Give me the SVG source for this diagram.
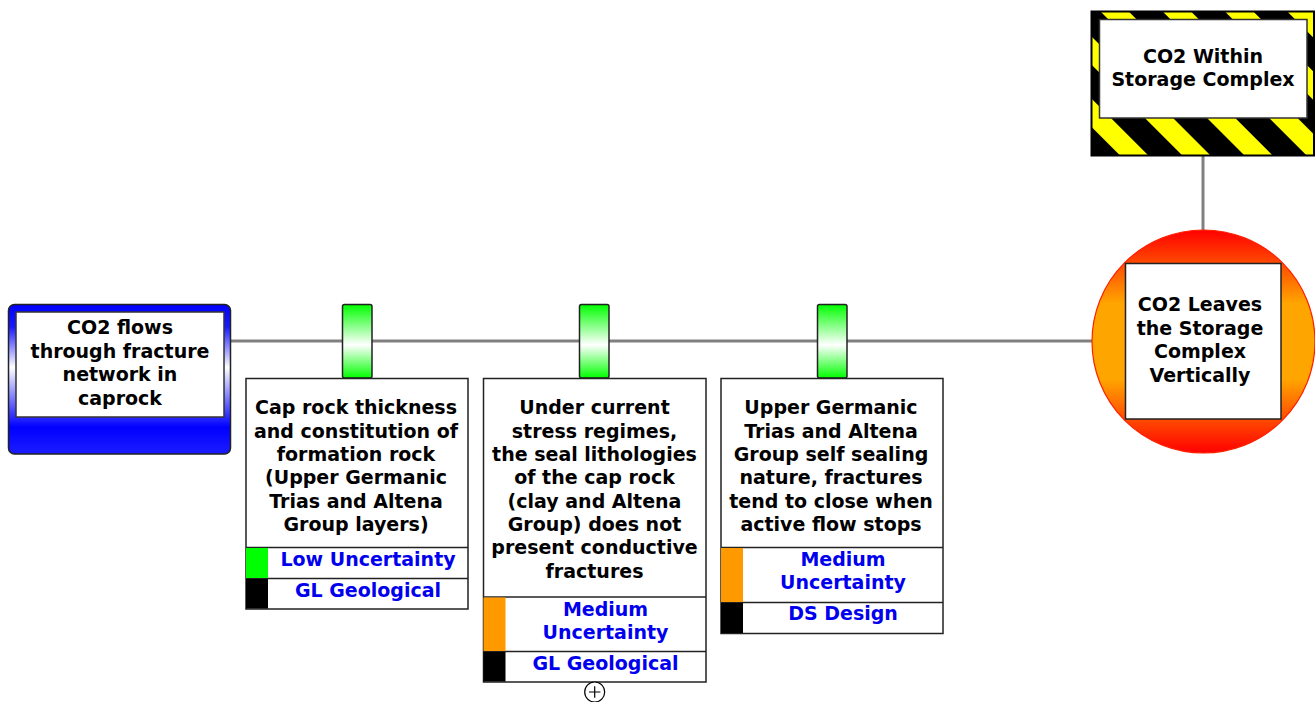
<svg xmlns="http://www.w3.org/2000/svg" width="1315" height="702" viewBox="0 0 1315 702">
<style>
.t{font-family:"DejaVu Sans","Verdana",sans-serif;font-weight:bold;font-size:19px;fill:#000;text-anchor:middle}
.b{fill:#0000ee}
.box{fill:#fff;stroke:#222;stroke-width:1.5}
.con{stroke:#808080;stroke-width:3;fill:none}
.bar{fill:url(#gGreen);stroke:#222;stroke-width:1.5}
</style>
<defs>
<linearGradient id="gBlue" x1="0" y1="0" x2="0" y2="1">
<stop offset="0" stop-color="#0000ff"/>
<stop offset="0.15" stop-color="#1a1aff"/>
<stop offset="0.42" stop-color="#ffffff"/>
<stop offset="0.82" stop-color="#0000ff"/>
<stop offset="1" stop-color="#1c1cff"/>
</linearGradient>
<linearGradient id="gGreen" x1="0" y1="0" x2="0" y2="1">
<stop offset="0" stop-color="#00ff00"/>
<stop offset="0.55" stop-color="#ffffff"/>
<stop offset="1" stop-color="#00ff00"/>
</linearGradient>
<linearGradient id="gFire" x1="0" y1="0" x2="0" y2="1">
<stop offset="0" stop-color="#ff0000"/>
<stop offset="0.33" stop-color="#ffa500"/>
<stop offset="0.67" stop-color="#ffa500"/>
<stop offset="1" stop-color="#ff0000"/>
</linearGradient>
<pattern id="hz" width="44" height="44" patternUnits="userSpaceOnUse" patternTransform="translate(1100 11) rotate(-45)">
<rect width="44" height="44" fill="#000"/>
<rect width="20" height="44" fill="#ffff00"/>
</pattern>
</defs>

<g id="connectors">
<line class="con" x1="231" y1="341" x2="1092" y2="341"/>
<line class="con" x1="1203" y1="155" x2="1203" y2="230"/>
</g>

<g id="threat">
<rect x="8.5" y="304.5" width="222" height="149.5" rx="6" fill="url(#gBlue)" stroke="#222" stroke-width="1.5"/>
<rect x="16" y="312" width="208" height="105" fill="#fff" stroke="#333" stroke-width="1.5"/>
<text class="t" x="120" y="334">CO2 flows</text>
<text class="t" x="120" y="358">through fracture</text>
<text class="t" x="120" y="381">network in</text>
<text class="t" x="120" y="405">caprock</text>
</g>

<g id="barrier1">
<rect class="bar" x="342.5" y="304.5" width="29.5" height="73.5" rx="2"/>
<rect class="box" x="246" y="378.5" width="222" height="230.5"/>
<line x1="246" y1="547.5" x2="468" y2="547.5" stroke="#222" stroke-width="1.5"/>
<line x1="246" y1="578.5" x2="468" y2="578.5" stroke="#222" stroke-width="1.5"/>
<rect x="246" y="548" width="22" height="30" fill="#00ff00"/>
<rect x="246" y="579" width="22" height="29.5" fill="#000"/>
<text class="t" x="356" y="414">Cap rock thickness</text>
<text class="t" x="356" y="437.5">and constitution of</text>
<text class="t" x="356" y="461">formation rock</text>
<text class="t" x="356" y="484">(Upper Germanic</text>
<text class="t" x="356" y="507.5">Trias and Altena</text>
<text class="t" x="356" y="531">Group layers)</text>
<text class="t b" x="368" y="566">Low Uncertainty</text>
<text class="t b" x="368" y="597">GL Geological</text>
</g>

<g id="barrier2">
<rect class="bar" x="579.5" y="304.5" width="29.5" height="73.5" rx="2"/>
<rect class="box" x="483.5" y="378.5" width="222.5" height="303.5"/>
<line x1="483.5" y1="597" x2="706" y2="597" stroke="#222" stroke-width="1.5"/>
<line x1="483.5" y1="651.5" x2="706" y2="651.5" stroke="#222" stroke-width="1.5"/>
<rect x="483.5" y="597.5" width="22" height="53.5" fill="#ff9900"/>
<rect x="483.5" y="652" width="22" height="29.5" fill="#000"/>
<text class="t" x="594.5" y="414">Under current</text>
<text class="t" x="594.5" y="437.5">stress regimes,</text>
<text class="t" x="594.5" y="461">the seal lithologies</text>
<text class="t" x="594.5" y="484">of the cap rock</text>
<text class="t" x="594.5" y="507.5">(clay and Altena</text>
<text class="t" x="594.5" y="531">Group) does not</text>
<text class="t" x="594.5" y="554">present conductive</text>
<text class="t" x="594.5" y="577.5">fractures</text>
<text class="t b" x="605.5" y="615.5">Medium</text>
<text class="t b" x="605.5" y="639">Uncertainty</text>
<text class="t b" x="605.5" y="670">GL Geological</text>
<circle cx="594.7" cy="692" r="10" fill="#fff" stroke="#000" stroke-width="1.2"/>
<path d="M589 692H600.4M594.7 686.3V697.7" stroke="#000" stroke-width="1.2"/>
</g>

<g id="barrier3">
<rect class="bar" x="817.5" y="304.5" width="29.5" height="73.5" rx="2"/>
<rect class="box" x="721" y="378.5" width="222" height="255"/>
<line x1="721" y1="547.5" x2="943" y2="547.5" stroke="#222" stroke-width="1.5"/>
<line x1="721" y1="602.5" x2="943" y2="602.5" stroke="#222" stroke-width="1.5"/>
<rect x="721" y="548" width="22" height="54" fill="#ff9900"/>
<rect x="721" y="603" width="22" height="30" fill="#000"/>
<text class="t" x="831" y="414">Upper Germanic</text>
<text class="t" x="831" y="437.5">Trias and Altena</text>
<text class="t" x="831" y="461">Group self sealing</text>
<text class="t" x="831" y="484">nature, fractures</text>
<text class="t" x="831" y="507.5">tend to close when</text>
<text class="t" x="831" y="531">active flow stops</text>
<text class="t b" x="843" y="566">Medium</text>
<text class="t b" x="843" y="589">Uncertainty</text>
<text class="t b" x="843" y="620">DS Design</text>
</g>

<g id="topEvent">
<circle cx="1203.5" cy="341.5" r="111.5" fill="url(#gFire)" stroke="#ff2000" stroke-width="1.2"/>
<rect x="1125.5" y="263.5" width="155.5" height="155.5" fill="#fff" stroke="#222" stroke-width="1.5"/>
<text class="t" x="1200" y="311">CO2 Leaves</text>
<text class="t" x="1200" y="335">the Storage</text>
<text class="t" x="1200" y="358">Complex</text>
<text class="t" x="1200" y="381.5">Vertically</text>
</g>

<g id="hazard">
<rect x="1091.5" y="11.5" width="222.5" height="144" fill="url(#hz)" stroke="#000" stroke-width="2"/>
<rect x="1099.5" y="19.5" width="207.5" height="98.5" fill="#fff" stroke="#333" stroke-width="1.5"/>
<text class="t" x="1203" y="63">CO2 Within</text>
<text class="t" x="1203" y="86">Storage Complex</text>
</g>
</svg>
